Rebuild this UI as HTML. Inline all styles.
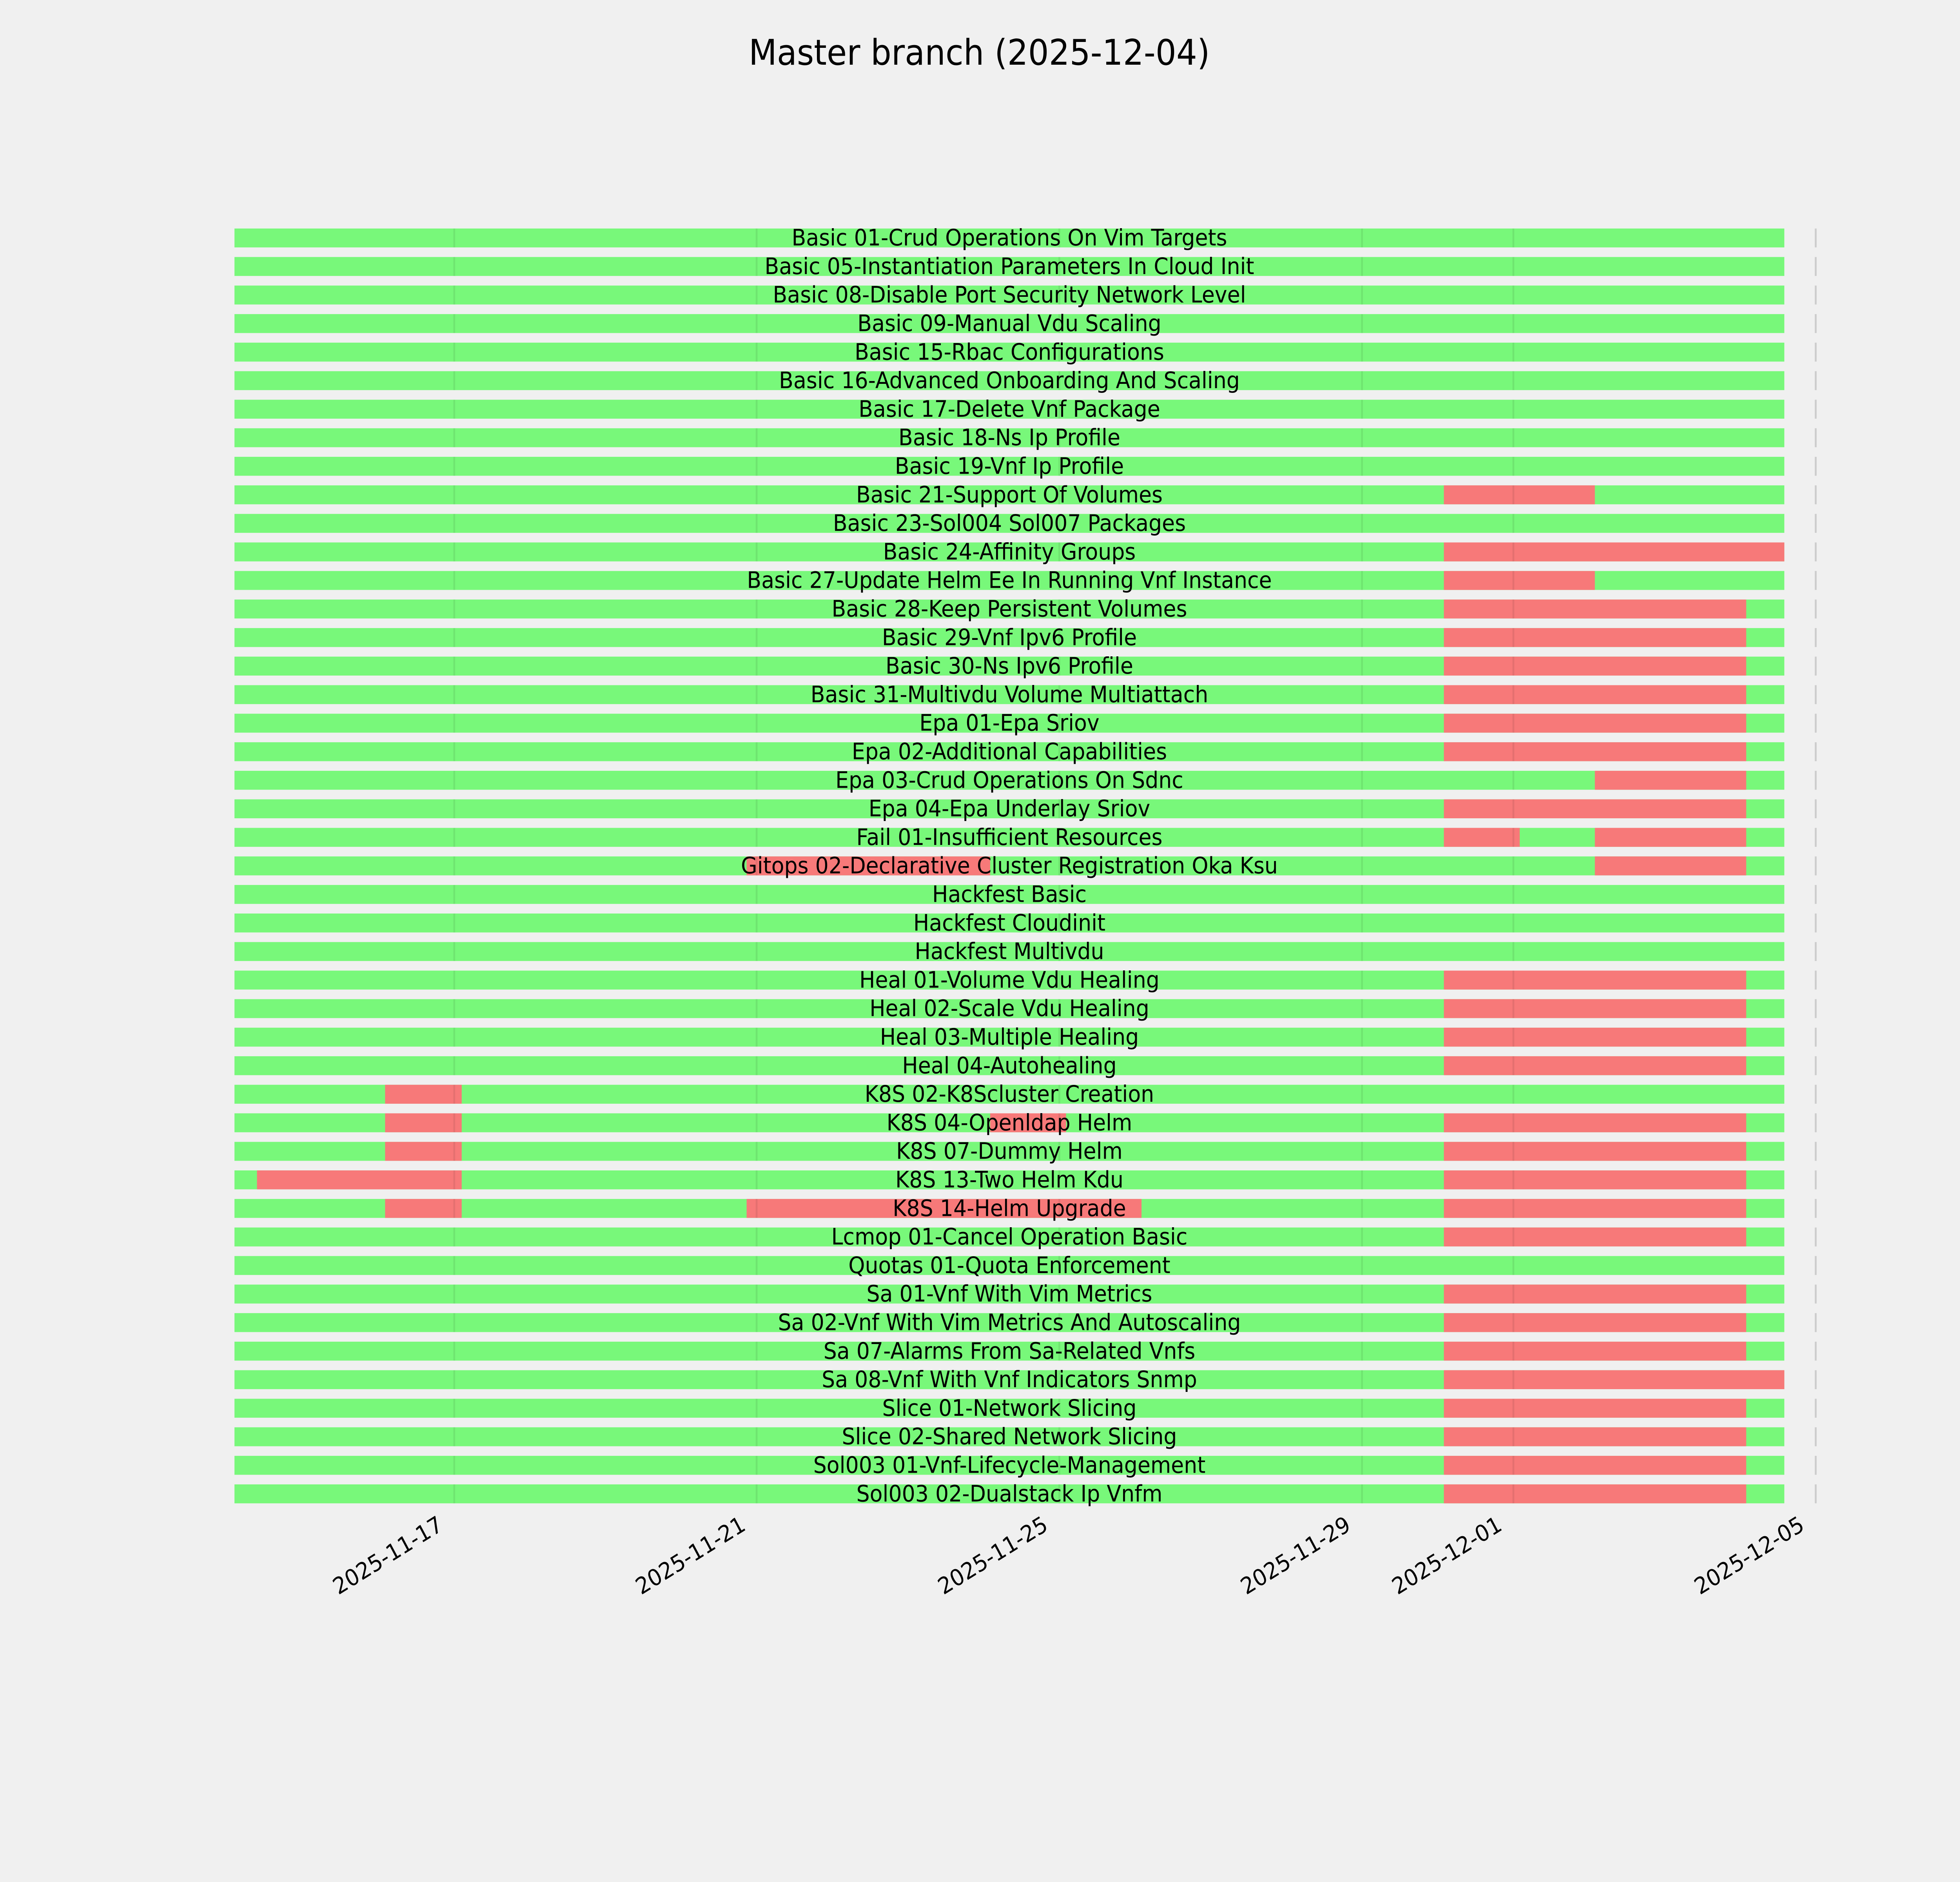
<!DOCTYPE html>
<html><head><meta charset="utf-8"><style>
html,body{margin:0;padding:0;background:#f0f0f0;width:100%;height:100%;overflow:hidden}
svg{display:block;width:100vw;height:100vh}
text{font-family:"DejaVu Sans","Liberation Sans",sans-serif;fill:#000}
.l{font-size:58px;text-anchor:middle;dominant-baseline:central}
.r{fill:#f77979}
</style></head><body>
<svg viewBox="0 0 5400 4800" preserveAspectRatio="none" xmlns="http://www.w3.org/2000/svg">
<defs>
<pattern id="g" patternUnits="userSpaceOnUse" x="0" y="582.7" width="10" height="72.8"><rect x="0" y="0" width="10" height="48.3" fill="#78f87a"/></pattern>
<pattern id="d" patternUnits="userSpaceOnUse" x="0" y="582.7" width="10" height="72.8"><rect x="0" y="0" width="10" height="48.3" fill="rgba(0,0,0,0.08)"/></pattern>
<pattern id="t" patternUnits="userSpaceOnUse" x="0" y="582.7" width="10" height="72.8"><rect x="0" y="0" width="10" height="48.3" fill="#cccccc"/></pattern>
</defs>
<rect width="5400" height="4800" fill="#f0f0f0"/>
<text x="2698" y="165" style="font-size:90px;text-anchor:middle">Master branch (2025-12-04)</text>
<rect x="646" y="582.7" width="4270" height="3252" fill="url(#g)"/>
<g class="r">
<rect x="3978" y="1237.9" width="416" height="48.3"/>
<rect x="3978" y="1383.5" width="938" height="48.3"/>
<rect x="3978" y="1456.3" width="416" height="48.3"/>
<rect x="3978" y="1529.1" width="833" height="48.3"/>
<rect x="3978" y="1601.9" width="833" height="48.3"/>
<rect x="3978" y="1674.7" width="833" height="48.3"/>
<rect x="3978" y="1747.5" width="833" height="48.3"/>
<rect x="3978" y="1820.3" width="833" height="48.3"/>
<rect x="3978" y="1893.1" width="833" height="48.3"/>
<rect x="4394" y="1965.9" width="417" height="48.3"/>
<rect x="3978" y="2038.7" width="833" height="48.3"/>
<rect x="3978" y="2111.5" width="209" height="48.3"/>
<rect x="4394" y="2111.5" width="417" height="48.3"/>
<rect x="2057" y="2184.3" width="671" height="48.3"/>
<rect x="4394" y="2184.3" width="417" height="48.3"/>
<rect x="3978" y="2475.5" width="833" height="48.3"/>
<rect x="3978" y="2548.3" width="833" height="48.3"/>
<rect x="3978" y="2621.1" width="833" height="48.3"/>
<rect x="3978" y="2693.9" width="833" height="48.3"/>
<rect x="1061" y="2766.7" width="211" height="48.3"/>
<rect x="1061" y="2839.5" width="211" height="48.3"/>
<rect x="2728" y="2839.5" width="209" height="48.3"/>
<rect x="3978" y="2839.5" width="833" height="48.3"/>
<rect x="1061" y="2912.3" width="211" height="48.3"/>
<rect x="3978" y="2912.3" width="833" height="48.3"/>
<rect x="708" y="2985.1" width="564" height="48.3"/>
<rect x="3978" y="2985.1" width="833" height="48.3"/>
<rect x="1061" y="3057.9" width="211" height="48.3"/>
<rect x="2057" y="3057.9" width="1088" height="48.3"/>
<rect x="3978" y="3057.9" width="833" height="48.3"/>
<rect x="3978" y="3130.7" width="833" height="48.3"/>
<rect x="3978" y="3276.3" width="833" height="48.3"/>
<rect x="3978" y="3349.1" width="833" height="48.3"/>
<rect x="3978" y="3421.9" width="833" height="48.3"/>
<rect x="3978" y="3494.7" width="938" height="48.3"/>
<rect x="3978" y="3567.5" width="833" height="48.3"/>
<rect x="3978" y="3640.3" width="833" height="48.3"/>
<rect x="3978" y="3713.1" width="833" height="48.3"/>
<rect x="3978" y="3785.9" width="833" height="48.3"/>
</g>
<g>
<rect x="1249" y="582.7" width="5" height="3252" fill="url(#d)"/>
<rect x="2082" y="582.7" width="5" height="3252" fill="url(#d)"/>
<rect x="2916" y="582.7" width="5" height="3252" fill="url(#d)"/>
<rect x="3750" y="582.7" width="5" height="3252" fill="url(#d)"/>
<rect x="4167" y="582.7" width="5" height="3252" fill="url(#d)"/>
<rect x="5000" y="582.7" width="5" height="3252" fill="url(#t)"/>
</g>
<g class="l">
<text class="l" x="2781" y="606.9">Basic 01-Crud Operations On Vim Targets</text>
<text class="l" x="2781" y="679.7">Basic 05-Instantiation Parameters In Cloud Init</text>
<text class="l" x="2781" y="752.5">Basic 08-Disable Port Security Network Level</text>
<text class="l" x="2781" y="825.3">Basic 09-Manual Vdu Scaling</text>
<text class="l" x="2781" y="898.1">Basic 15-Rbac Configurations</text>
<text class="l" x="2781" y="970.9">Basic 16-Advanced Onboarding And Scaling</text>
<text class="l" x="2781" y="1043.7">Basic 17-Delete Vnf Package</text>
<text class="l" x="2781" y="1116.5">Basic 18-Ns Ip Profile</text>
<text class="l" x="2781" y="1189.3">Basic 19-Vnf Ip Profile</text>
<text class="l" x="2781" y="1262.1">Basic 21-Support Of Volumes</text>
<text class="l" x="2781" y="1334.9">Basic 23-Sol004 Sol007 Packages</text>
<text class="l" x="2781" y="1407.7">Basic 24-Affinity Groups</text>
<text class="l" x="2781" y="1480.5">Basic 27-Update Helm Ee In Running Vnf Instance</text>
<text class="l" x="2781" y="1553.3">Basic 28-Keep Persistent Volumes</text>
<text class="l" x="2781" y="1626.1">Basic 29-Vnf Ipv6 Profile</text>
<text class="l" x="2781" y="1698.9">Basic 30-Ns Ipv6 Profile</text>
<text class="l" x="2781" y="1771.7">Basic 31-Multivdu Volume Multiattach</text>
<text class="l" x="2781" y="1844.5">Epa 01-Epa Sriov</text>
<text class="l" x="2781" y="1917.3">Epa 02-Additional Capabilities</text>
<text class="l" x="2781" y="1990.1">Epa 03-Crud Operations On Sdnc</text>
<text class="l" x="2781" y="2062.9">Epa 04-Epa Underlay Sriov</text>
<text class="l" x="2781" y="2135.7">Fail 01-Insufficient Resources</text>
<text class="l" x="2781" y="2208.5">Gitops 02-Declarative Cluster Registration Oka Ksu</text>
<text class="l" x="2781" y="2281.3">Hackfest Basic</text>
<text class="l" x="2781" y="2354.1">Hackfest Cloudinit</text>
<text class="l" x="2781" y="2426.9">Hackfest Multivdu</text>
<text class="l" x="2781" y="2499.7">Heal 01-Volume Vdu Healing</text>
<text class="l" x="2781" y="2572.5">Heal 02-Scale Vdu Healing</text>
<text class="l" x="2781" y="2645.3">Heal 03-Multiple Healing</text>
<text class="l" x="2781" y="2718.1">Heal 04-Autohealing</text>
<text class="l" x="2781" y="2790.9">K8S 02-K8Scluster Creation</text>
<text class="l" x="2781" y="2863.7">K8S 04-Openldap Helm</text>
<text class="l" x="2781" y="2936.5">K8S 07-Dummy Helm</text>
<text class="l" x="2781" y="3009.3">K8S 13-Two Helm Kdu</text>
<text class="l" x="2781" y="3082.1">K8S 14-Helm Upgrade</text>
<text class="l" x="2781" y="3154.9">Lcmop 01-Cancel Operation Basic</text>
<text class="l" x="2781" y="3227.7">Quotas 01-Quota Enforcement</text>
<text class="l" x="2781" y="3300.5">Sa 01-Vnf With Vim Metrics</text>
<text class="l" x="2781" y="3373.3">Sa 02-Vnf With Vim Metrics And Autoscaling</text>
<text class="l" x="2781" y="3446.1">Sa 07-Alarms From Sa-Related Vnfs</text>
<text class="l" x="2781" y="3518.9">Sa 08-Vnf With Vnf Indicators Snmp</text>
<text class="l" x="2781" y="3591.7">Slice 01-Network Slicing</text>
<text class="l" x="2781" y="3664.5">Slice 02-Shared Network Slicing</text>
<text class="l" x="2781" y="3737.3">Sol003 01-Vnf-Lifecycle-Management</text>
<text class="l" x="2781" y="3810.1">Sol003 02-Dualstack Ip Vnfm</text>
</g>
<g style="font-size:58px;text-anchor:end">
<text x="1224" y="3900" transform="rotate(-30 1224 3900)">2025-11-17</text>
<text x="2058" y="3900" transform="rotate(-30 2058 3900)">2025-11-21</text>
<text x="2891" y="3900" transform="rotate(-30 2891 3900)">2025-11-25</text>
<text x="3725" y="3900" transform="rotate(-30 3725 3900)">2025-11-29</text>
<text x="4142" y="3900" transform="rotate(-30 4142 3900)">2025-12-01</text>
<text x="4975" y="3900" transform="rotate(-30 4975 3900)">2025-12-05</text>
</g>
</svg>
</body></html>
